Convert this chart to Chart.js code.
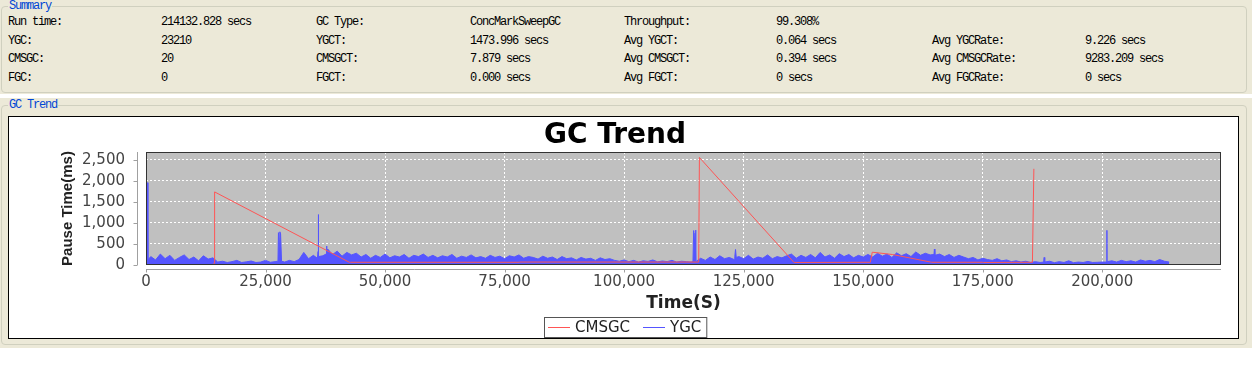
<!DOCTYPE html>
<html>
<head>
<meta charset="utf-8">
<title>GC Trend</title>
<script src="https://cdn.jsdelivr.net/npm/chart.js@4.4.0/dist/chart.umd.min.js"></script>
<style>
  body { margin: 0; width: 1252px; height: 384px; background: #fff; position: relative; overflow: hidden; font-family: "Liberation Mono", monospace; }
  .panel { position: absolute; left: 0; width: 1252px; background: #ece9d8; }
  .box { position: absolute; border: 1px solid #d0d0bf; border-radius: 4px; }
  .cap { position: absolute; background: #ece9d8; color: #0046d5; font-size: 12px; line-height: 12px; padding: 0 1px; letter-spacing: -1.2px; }
  .cell { position: absolute; font-size: 12px; line-height: 12px; color: #000; white-space: pre; letter-spacing: -1.2px; }
  #plotBox { position: absolute; left: 8px; top: 116px; width: 1229px; height: 221px; border: 1px solid #000; background: #fff; }
  #gcChart { display: block; }
</style>
</head>
<body>
<div class="panel" style="top:0;height:94px;">
  <div class="box" style="left:1px;top:6px;width:1244px;height:85px;"></div>
  <div class="cap" style="left:8px;top:0px;">Summary</div>
  <div id="summary"></div>
</div>
<div class="panel" style="top:98px;height:250px;">
  <div class="box" style="left:1px;top:7px;width:1244px;height:238px;"></div>
  <div class="cap" style="left:8px;top:1px;">GC Trend</div>
</div>
<div id="plotBox"><canvas id="gcChart" width="1229" height="221"></canvas></div>

<script>
// summary table
var summaryRows = [
  ["Run time:", "214132.828 secs", "GC Type:", "ConcMarkSweepGC", "Throughput:", "99.308%", "", ""],
  ["YGC:", "23210", "YGCT:", "1473.996 secs", "Avg YGCT:", "0.064 secs", "Avg YGCRate:", "9.226 secs"],
  ["CMSGC:", "20", "CMSGCT:", "7.879 secs", "Avg CMSGCT:", "0.394 secs", "Avg CMSGCRate:", "9283.209 secs"],
  ["FGC:", "0", "FGCT:", "0.000 secs", "Avg FGCT:", "0 secs", "Avg FGCRate:", "0 secs"]
];
var summaryCols = [8, 161, 316, 470, 624, 776, 932, 1085];
var summaryTops = [16, 35, 53, 72];

// CMS pauses (time s, pause ms)
var cmsTime  = [14100, 14250, 14350, 42600, 42800, 78000, 78200, 115600, 115750, 135500,
                135700, 151500, 151900, 156100, 164100, 164300, 175000, 175200, 185400, 185700];
var cmsPause = [40, 40, 1740, 60, 65, 65, 70, 70, 2560, 65,
                60, 65, 305, 250, 70, 65, 65, 60, 65, 2290];

// young gc pauses: envelope per 1000 s bin, starting at 0
var ygcBinSize = 1000;
var ygcPause = [
  120,
  200, 120, 260, 150, 230, 110, 180, 240, 130, 190, 100, 220, 140, 170,
  70, 90, 60, 80, 110, 60, 75, 95, 60, 70, 110, 65, 80,
  90,
  70, 110, 80, 130, 300, 150, 230,
  320, 220, 380, 250, 330, 210, 300, 240, 280,
  190, 250, 160, 230, 180, 260, 170, 220, 190, 250, 160, 230, 200, 260, 180, 230,
  170, 220, 190, 250, 160, 210, 180, 240, 170, 200, 160, 230, 180, 210, 150, 220, 190, 240, 160, 200,
  180, 140, 210, 160, 190, 130, 200, 150, 170, 120, 180, 140, 160, 110, 170, 130, 150, 110,
  90, 120, 80, 110, 70, 100, 85, 120, 75, 95, 80, 110, 70, 90, 80, 70,
  100, 160, 110, 190, 130, 220, 150, 180, 130, 200, 150, 230, 140, 190, 160, 240, 150, 200, 170, 220,
  260, 160, 230, 180, 250, 170, 300, 190, 240, 160, 270, 200, 250, 170, 230, 190,
  250, 190, 280, 210, 260, 180, 290, 220, 270, 200, 310, 230, 280, 240, 200, 260, 200, 250, 180, 230,
  190, 150, 180, 120, 160, 130, 110, 150, 100, 120,
  80, 100, 70, 90, 60, 80, 60, 70, 90, 55, 80, 60, 100, 55, 70, 60, 85, 60,
  65, 70, 60, 100, 70, 110, 80, 100, 70, 120, 90, 110, 80, 130, 90,
  70
];
// the tall young gc spikes
var spikeTime  = [0, 250, 400, 27600, 27700, 27850, 28000, 28150, 28350, 35850, 36000, 36150,
                  37650, 37750, 37850, 114400, 114550, 114700, 114850, 114960, 115100,
                  123150, 123300, 123450, 164800, 164900, 165000, 187750, 187850, 187950,
                  200850, 200980, 201100];
var spikePause = [1960, 1960, 120, 90, 770, 600, 790, 740, 90, 160, 1200, 200,
                  260, 450, 250, 80, 820, 500, 760, 830, 90,
                  200, 370, 180, 250, 380, 230, 70, 180, 60,
                  70, 825, 80];

// axes
var xMax = 224840, yMax = 2690;
var xTickValues = [0, 25000, 50000, 75000, 100000, 125000, 150000, 175000, 200000];
var yTickValues = [0, 500, 1000, 1500, 2000, 2500];

var sumEl = document.getElementById('summary');
summaryRows.forEach(function (row, r) {
  row.forEach(function (txt, c) {
    if (!txt) return;
    var d = document.createElement('div');
    d.className = 'cell';
    d.style.left = summaryCols[c] + 'px';
    d.style.top = summaryTops[r] + 'px';
    d.textContent = txt;
    sumEl.appendChild(d);
  });
});

var ygcPts = ygcPause.map(function (v, i) { return {x: i * ygcBinSize, y: v}; });
spikeTime.forEach(function (t, i) { ygcPts.push({x: t, y: spikePause[i]}); });
ygcPts.sort(function (a, b) { return a.x - b.x; });
var cmsPts = cmsTime.map(function (t, i) { return {x: t, y: cmsPause[i]}; });

var tickFont = {family: '"DejaVu Sans", Verdana, sans-serif', size: 15};

var gcDecor = {
  id: 'gcDecor',
  beforeDraw: function (chart) {
    var a = chart.chartArea, ctx = chart.ctx;
    ctx.save();
    ctx.fillStyle = '#c0c0c0';
    ctx.fillRect(a.left, a.top, a.right - a.left, a.bottom - a.top);
    ctx.restore();
  },
  afterDraw: function (chart) {
    var ctx = chart.ctx, a = chart.chartArea;
    var xs = chart.scales.x, ys = chart.scales.y;
    ctx.save();
    // offset axis lines with outward ticks
    ctx.strokeStyle = '#a0a0a0';
    ctx.lineWidth = 1;
    ctx.setLineDash([]);
    ctx.beginPath();
    var ax = Math.round(a.left) - 8.5;
    ctx.moveTo(ax, a.top); ctx.lineTo(ax, a.bottom);
    ys.ticks.forEach(function (t) {
      var py = Math.round(ys.getPixelForValue(t.value)) + 0.5;
      ctx.moveTo(ax - 4, py); ctx.lineTo(ax, py);
    });
    var ay = Math.round(a.bottom) + 4.5;
    ctx.moveTo(a.left, ay); ctx.lineTo(a.right, ay);
    xs.ticks.forEach(function (t) {
      var px = Math.round(xs.getPixelForValue(t.value)) + 0.5;
      ctx.moveTo(px, ay); ctx.lineTo(px, ay + 3);
    });
    ctx.stroke();
    // plot outline
    ctx.strokeStyle = '#333';
    ctx.strokeRect(Math.round(a.left) + 0.5, Math.round(a.top) + 0.5,
                   Math.round(a.right - a.left) - 1, Math.round(a.bottom - a.top) - 1);
    // legend box
    ctx.font = '15px "DejaVu Sans", Verdana, sans-serif';
    ctx.textBaseline = 'middle';
    var items = chart.data.datasets.map(function (d) {
      return {label: d.label, color: d.borderColor, w: ctx.measureText(d.label).width};
    });
    var lineLen = 22, gap = 5, between = 13, padL = 4, padR = 6;
    var total = padL + padR;
    items.forEach(function (it, i) { total += lineLen + gap + it.w + (i ? between : 0); });
    var h = 21, top = chart.height - h;
    var left = Math.round(chart.width / 2 - total / 2 + 2);
    ctx.fillStyle = '#fff';
    ctx.fillRect(left, top, total, h);
    ctx.strokeStyle = '#555';
    ctx.strokeRect(left + 0.5, top + 0.5, total - 1, h - 1);
    var cx = left + padL, cy = top + h / 2 + 0.5;
    items.forEach(function (it, i) {
      if (i) cx += between;
      ctx.fillStyle = it.color;
      ctx.fillRect(Math.round(cx), Math.round(cy) - 1, lineLen, 1);
      cx += lineLen + gap;
      ctx.fillStyle = '#222';
      ctx.fillText(it.label, cx, cy);
      cx += it.w;
    });
    ctx.restore();
  }
};

new Chart(document.getElementById('gcChart').getContext('2d'), {
  type: 'scatter',
  data: {
    datasets: [
      {
        label: 'CMSGC',
        data: cmsPts,
        showLine: true,
        borderColor: 'rgb(255, 85, 85)',
        backgroundColor: 'rgb(255, 85, 85)',
        borderWidth: 1,
        pointRadius: 0,
        fill: false
      },
      {
        label: 'YGC',
        data: ygcPts,
        showLine: true,
        borderColor: 'rgb(85, 85, 255)',
        backgroundColor: 'rgb(85, 85, 255)',
        borderWidth: 1,
        pointRadius: 0,
        fill: 'origin'
      }
    ]
  },
  options: {
    responsive: false,
    animation: false,
    devicePixelRatio: 1,
    layout: {padding: {left: 0, right: 17, top: 0, bottom: 21}},
    plugins: {
      legend: {display: false},
      tooltip: {enabled: false},
      title: {
        display: true,
        text: 'GC Trend',
        color: '#000',
        font: {family: '"DejaVu Sans", Verdana, sans-serif', size: 28, weight: 'bold', lineHeight: 1.15},
        padding: {top: 2.8, bottom: 0}
      }
    },
    scales: {
      x: {
        type: 'linear',
        min: 0,
        max: xMax,
        border: {display: false, dash: [2, 2]},
        grid: {color: '#ffffff', drawTicks: false},
        afterBuildTicks: function (s) { s.ticks = xTickValues.map(function (v) { return {value: v}; }); },
        ticks: {autoSkip: false, maxRotation: 0, padding: 8.5, color: '#444', font: tickFont},
        title: {display: true, text: 'Time(S)', color: '#222',
                font: {family: '"DejaVu Sans", Verdana, sans-serif', size: 17, weight: 'bold', lineHeight: 1.2},
                padding: {top: 0, bottom: 3}},
        afterFit: function (s) { s.height = 52; }
      },
      y: {
        type: 'linear',
        min: 0,
        max: yMax,
        border: {display: false, dash: [2, 2]},
        grid: {color: '#ffffff', drawTicks: false},
        afterBuildTicks: function (s) { s.ticks = yTickValues.map(function (v) { return {value: v}; }); },
        ticks: {padding: 21, color: '#444', font: tickFont},
        title: {display: true, text: 'Pause Time(ms)', color: '#222',
                font: {family: '"Liberation Sans", Arial, sans-serif', size: 15, weight: 'bold', lineHeight: 1.2},
                padding: {top: 50, bottom: 0}},
        afterFit: function (s) { s.width = 137; }
      }
    }
  },
  plugins: [gcDecor]
});
</script>
</body>
</html>
